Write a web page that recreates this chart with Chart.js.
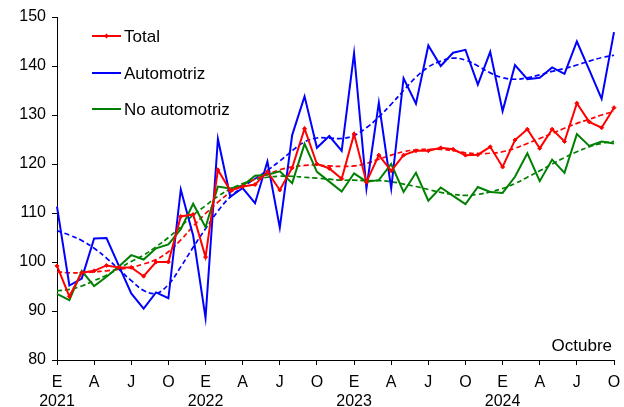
<!DOCTYPE html>
<html>
<head>
<meta charset="utf-8">
<script src="https://cdn.jsdelivr.net/npm/chart.js@4/dist/chart.umd.min.js"></script>
<style>
  html, body { margin: 0; padding: 0; background: #fff; }
  canvas { display: block; }
</style>
</head>
<body>
<canvas id="chart" width="624" height="407"></canvas>
<script>
// Month initials (Spanish) and years for the x axis
const monthLetters = ['E', 'F', 'M', 'A', 'M', 'J', 'J', 'A', 'S', 'O', 'N', 'D'];
const years = ['2021', '2022', '2023', '2024'];
const monthCount = 46; // Jan 2021 .. Oct 2024

// Monthly index values
const total = [99.2, 93.0, 97.8, 98.2, 99.3, 98.9, 98.9, 97.1, 100.0, 100.0, 109.3, 109.7,
  101.0, 118.8, 114.6, 115.4, 115.8, 118.4, 114.7, 119.2, 127.2, 120.0, 119.1, 117.0,
  126.1, 116.3, 121.8, 118.6, 121.8, 122.7, 122.7, 123.3, 123.0, 121.8, 121.9, 123.5,
  119.4, 124.9, 127.1, 123.2, 127.1, 124.6, 132.4, 128.6, 127.4, 131.5];
const automotriz = [111.3, 95.2, 96.6, 104.8, 104.9, 99.2, 93.6, 90.5, 93.8, 92.6, 114.8, 105.4,
  88.6, 125.1, 113.3, 115.1, 112.0, 120.5, 107.0, 125.9, 133.8, 123.3, 125.7, 122.7,
  142.6, 115.0, 132.5, 115.0, 137.5, 132.3, 144.2, 140.0, 142.7, 143.3, 136.2, 142.9,
  130.8, 140.2, 137.3, 137.6, 139.7, 138.4, 145.0, 139.2, 133.3, 146.9];
const noAutomotriz = [93.5, 92.2, 98.2, 95.1, 97.0, 99.1, 101.4, 100.5, 102.8, 103.6, 106.7, 111.9,
  107.1, 115.4, 115.0, 115.6, 117.6, 117.8, 118.5, 116.1, 124.1, 118.4, 116.4, 114.4,
  118.1, 116.4, 116.7, 120.0, 114.3, 118.2, 112.5, 115.2, 113.5, 111.8, 115.3, 114.3,
  114.1, 117.4, 122.2, 116.5, 120.9, 118.2, 126.1, 123.7, 124.6, 124.2];

// Dashed trend lines
const totalTrend = [98.0, 97.8, 97.8, 98.0, 98.2, 98.5, 98.9, 99.6, 100.5, 102.1, 104.5, 107.3,
  109.9, 112.2, 114.2, 115.7, 116.9, 117.9, 118.8, 119.4, 119.7, 119.8, 119.6, 119.5,
  119.6, 120.1, 121.0, 121.8, 122.5, 122.9, 123.0, 123.0, 122.7, 122.3, 122.1, 122.2,
  122.5, 123.2, 124.2, 125.2, 126.2, 127.3, 128.3, 129.1, 130.0, 130.7];
const automotrizTrend = [106.4, 105.5, 104.4, 102.8, 100.8, 98.5, 96.2, 94.2, 93.6, 95.4, 99.0, 103.0,
  106.8, 110.4, 113.3, 115.3, 117.0, 118.7, 120.6, 122.7, 124.5, 125.3, 125.3, 125.2,
  125.8, 127.4, 129.6, 132.2, 135.0, 137.7, 139.8, 141.0, 141.6, 141.2, 140.0, 138.6,
  137.6, 137.3, 137.6, 138.2, 138.9, 139.5, 140.2, 141.0, 141.7, 142.2];
const noAutomotrizTrend = [94.1, 94.4, 95.1, 96.2, 97.3, 98.7, 100.1, 101.4, 103.1, 105.0, 107.2, 109.6,
  111.5, 113.4, 114.9, 116.0, 116.8, 117.3, 117.5, 117.5, 117.3, 117.1, 116.9, 116.7,
  116.7, 116.6, 116.6, 116.4, 115.9, 115.4, 114.8, 114.2, 113.8, 113.6, 113.8, 114.3,
  115.0, 116.0, 117.3, 118.6, 120.0, 121.3, 122.5, 123.5, 124.2, 124.6];

const labels = [];
for (let i = 0; i < monthCount; i++) {
  labels.push(monthLetters[i % 12]);
}

const RED = '#ff0000';
const BLUE = '#0000ff';
const GREEN = '#008000';
const FONT = 'Liberation Sans, Arial, sans-serif';

// legend drawn inside the plot, plus the "Octubre" note
const notesPlugin = {
  id: 'notes',
  afterDraw(chart) {
    const c = chart.ctx;
    const area = chart.chartArea;
    const items = [
      { text: 'Total', color: RED, marker: true, y: 36 },
      { text: 'Automotriz', color: BLUE, marker: false, y: 73 },
      { text: 'No automotriz', color: GREEN, marker: false, y: 109 }
    ];
    c.save();
    c.font = '17px ' + FONT;
    c.textBaseline = 'middle';
    c.textAlign = 'left';
    items.forEach(it => {
      c.strokeStyle = it.color;
      c.lineWidth = 2;
      c.beginPath();
      c.moveTo(92, it.y);
      c.lineTo(121, it.y);
      c.stroke();
      if (it.marker) {
        c.fillStyle = it.color;
        c.beginPath();
        c.moveTo(106.5, it.y - 2.5);
        c.lineTo(109, it.y);
        c.lineTo(106.5, it.y + 2.5);
        c.lineTo(104, it.y);
        c.closePath();
        c.fill();
      }
      c.fillStyle = '#000';
      c.fillText(it.text, 124, it.y + 1);
    });
    c.font = '17px ' + FONT;
    c.textAlign = 'right';
    c.textBaseline = 'alphabetic';
    c.fillText('Octubre', area.right - 2, area.bottom - 9);
    c.restore();
  }
};

const ctx = document.getElementById('chart').getContext('2d');
const chart = new Chart(ctx, {
  type: 'line',
  data: {
    labels: labels,
    datasets: [
      {
        label: 'Total', data: total, borderColor: RED, backgroundColor: RED,
        borderWidth: 2, pointStyle: 'rectRot', pointRadius: 2, pointBorderWidth: 1, tension: 0
      },
      {
        label: 'No automotriz', data: noAutomotriz, borderColor: GREEN, backgroundColor: GREEN,
        borderWidth: 2, pointRadius: 0, tension: 0
      },
      {
        label: 'Automotriz', data: automotriz, borderColor: BLUE, backgroundColor: BLUE,
        borderWidth: 2, pointRadius: 0, tension: 0
      },
      {
        label: 'Tendencia total', data: totalTrend, borderColor: RED,
        borderWidth: 1.7, borderDash: [5, 3], pointRadius: 0, tension: 0.4
      },
      {
        label: 'Tendencia no automotriz', data: noAutomotrizTrend, borderColor: GREEN,
        borderWidth: 1.7, borderDash: [5, 3], pointRadius: 0, tension: 0.4
      },
      {
        label: 'Tendencia automotriz', data: automotrizTrend, borderColor: BLUE,
        borderWidth: 1.7, borderDash: [5, 3], pointRadius: 0, tension: 0.4
      }
    ]
  },
  options: {
    responsive: false,
    animation: false,
    devicePixelRatio: 1,
    layout: { padding: { top: 17, right: 10, left: 0, bottom: 0 } },
    plugins: {
      legend: { display: false },
      tooltip: { enabled: false }
    },
    scales: {
      x: {
        type: 'category',
        offset: false,
        border: { display: true, color: '#000', width: 1 },
        grid: {
          drawOnChartArea: false,
          drawTicks: true,
          tickLength: 5,
          tickColor: (c) => (c.index % 3 === 0 ? '#000' : 'rgba(0,0,0,0)')
        },
        ticks: {
          autoSkip: false,
          maxRotation: 0,
          minRotation: 0,
          padding: 8,
          color: '#000',
          font: { family: FONT, size: 16, lineHeight: 1.2 },
          callback: function (value, index) {
            if (index % 3 !== 0) return '';
            const letter = this.getLabelForValue(value);
            if (index % 12 === 0) return [letter, years[index / 12]];
            return letter;
          }
        },
        afterFit: (scale) => {
          scale.height = 47;
          scale.paddingLeft = 0;
          scale.paddingRight = 0;
        }
      },
      y: {
        min: 80,
        max: 150,
        border: { display: true, color: '#000', width: 1 },
        grid: { drawOnChartArea: false, drawTicks: true, tickLength: 5, tickColor: '#000' },
        ticks: {
          stepSize: 10,
          padding: 6,
          color: '#000',
          font: { family: FONT, size: 16 }
        },
        afterFit: (scale) => { scale.width = 57; }
      }
    }
  },
  plugins: [notesPlugin]
});
</script>
</body>
</html>
